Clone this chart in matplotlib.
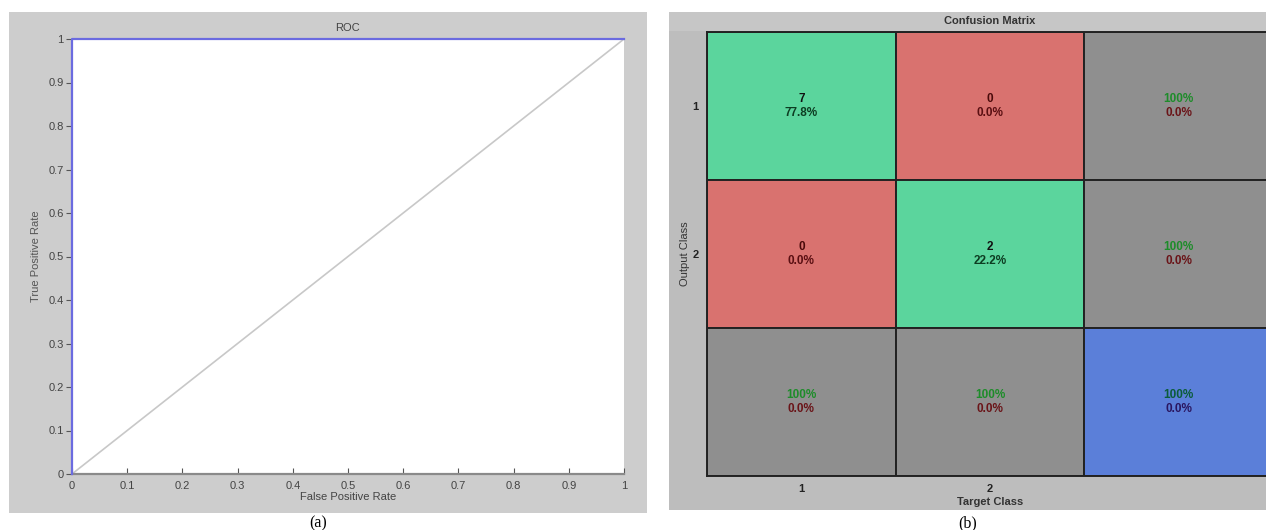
import matplotlib
matplotlib.use("Agg")
import matplotlib.pyplot as plt
from matplotlib.patches import Rectangle

plt.rcParams["font.family"] = ["Liberation Sans", "DejaVu Sans"]

W, H = 1266, 530

# ROC data
roc_fpr = [0.0, 0.0, 1.0]
roc_tpr = [0.0, 1.0, 1.0]
chance_x = [0.0, 1.0]
chance_y = [0.0, 1.0]
roc_ticks = [0, 0.1, 0.2, 0.3, 0.4, 0.5, 0.6, 0.7, 0.8, 0.9, 1]
roc_ticklabels = ["0", "0.1", "0.2", "0.3", "0.4", "0.5", "0.6", "0.7", "0.8", "0.9", "1"]

# confusion matrix data
classes = ["1", "2"]
counts = [[7, 0], [0, 2]]
cell_pct = [[77.8, 0.0], [0.0, 22.2]]
row_ok = [100.0, 100.0]      # right column, per output class
col_ok = [100.0, 100.0]      # bottom row, per target class
overall_ok = 100.0

GREEN, RED, GRAY, BLUE = "#5bd59d", "#d9726f", "#8f8f8f", "#5b7fd9"


def fig_rect(x0, y0, x1, y1):
    """pixel box (top-left origin) -> figure fraction [l, b, w, h]"""
    return [x0 / W, 1 - y1 / H, (x1 - x0) / W, (y1 - y0) / H]


fig = plt.figure(figsize=(W / 100, H / 100), dpi=100, facecolor="white")

# grey window backgrounds (behind the axes)
for box, col in [((9, 12, 647, 513), "#cdcdcd"), ((669, 12, 1266, 510), "#bdbdbd"),
                 ((669, 12, 1266, 31), "#c6c6c6")]:
    l, b, w, h = fig_rect(*box)
    fig.patches.append(Rectangle((l, b), w, h, transform=fig.transFigure,
                                 facecolor=col, edgecolor="none", zorder=-10))

# ------------------------------------------------------------------ ROC
ax = fig.add_axes(fig_rect(72, 39, 624, 474))
ax.set_facecolor("white")
ax.plot(chance_x, chance_y, color="#c8c8c8", lw=1.2, clip_on=False)
ax.plot(roc_fpr, roc_tpr, color="#6b6be0", lw=1.6, clip_on=False, zorder=5)
ax.set_xlim(0, 1)
ax.set_ylim(0, 1)
ax.set_xticks(roc_ticks)
ax.set_xticklabels(roc_ticklabels)
ax.set_yticks(roc_ticks)
ax.set_yticklabels(roc_ticklabels)
for s in ["top", "right", "left"]:
    ax.spines[s].set_visible(False)
ax.spines["bottom"].set_color("#8a8a8a")
ax.spines["bottom"].set_linewidth(1.6)
ax.tick_params(axis="x", direction="in", length=4, color="#555555", labelsize=8,
               labelcolor="#444444", pad=5)
ax.tick_params(axis="y", direction="out", length=4, color="#555555", labelsize=8,
               labelcolor="#444444", pad=2)
ax.set_title("ROC", fontsize=8, color="#444444", pad=6)
ax.set_xlabel("False Positive Rate", fontsize=8, color="#444444", labelpad=1)
ax.set_ylabel("True Positive Rate", fontsize=8, color="#555555", labelpad=5)

# ------------------------------------------------------------------ confusion matrix
cm = fig.add_axes(fig_rect(707, 32, 1273, 476))
n = len(classes)
cm.set_xlim(0.5, n + 1.5)
cm.set_ylim(n + 1.5, 0.5)
cm.set_facecolor(GRAY)

for i in range(n + 1):
    for j in range(n + 1):
        if i < n and j < n:
            col = GREEN if i == j else RED
            top = f"{counts[i][j]}"
            bot = f"{cell_pct[i][j]:.1f}%"
            c_top = "#111111" if i == j else "#4a0a0a"
            c_bot = "#0d3d22" if i == j else "#5a0f12"
        elif i < n:
            col, top, bot = GRAY, f"{row_ok[i]:.0f}%", f"{100 - row_ok[i]:.1f}%"
            c_top, c_bot = "#1e8c2a", "#6a1418"
        elif j < n:
            col, top, bot = GRAY, f"{col_ok[j]:.0f}%", f"{100 - col_ok[j]:.1f}%"
            c_top, c_bot = "#1e8c2a", "#6a1418"
        else:
            col, top, bot = BLUE, f"{overall_ok:.0f}%", f"{100 - overall_ok:.1f}%"
            c_top, c_bot = "#0b5c3a", "#2a1660"
        cm.add_patch(Rectangle((j + 0.5, i + 0.5), 1, 1, facecolor=col,
                               edgecolor="#222222", lw=1.4))
        cm.text(j + 1, i + 1 - 0.05, top, ha="center", va="center", fontsize=8.5,
                fontweight="bold", color=c_top)
        cm.text(j + 1, i + 1 + 0.05, bot, ha="center", va="center", fontsize=8.5,
                fontweight="bold", color=c_bot)

cm.set_xticks(range(1, n + 1))
cm.set_xticklabels(classes)
cm.set_yticks(range(1, n + 1))
cm.set_yticklabels(classes)
cm.tick_params(length=0, labelsize=8, labelcolor="#222222", pad=6)
for lab in cm.get_xticklabels() + cm.get_yticklabels():
    lab.set_fontweight("bold")
for s in cm.spines.values():
    s.set_color("#222222")
    s.set_linewidth(1.4)
cm.set_xlabel("Target Class", fontsize=8, fontweight="bold", color="#333333", labelpad=2)
cm.set_ylabel("Output Class", fontsize=8, color="#333333", labelpad=2)
fig.text(990 / W, 1 - 21 / H, "Confusion Matrix", ha="center", va="center",
         fontsize=8, fontweight="bold", color="#333333")

# sub-figure captions
fig.text(318 / W, 1 - 523 / H, "(a)", ha="center", va="center", fontsize=11.5,
         family="Liberation Serif")
fig.text(968 / W, 1 - 523 / H, "(b)", ha="center", va="center", fontsize=11.5,
         family="Liberation Serif")

fig.savefig("out.png", dpi=100, facecolor="white")
